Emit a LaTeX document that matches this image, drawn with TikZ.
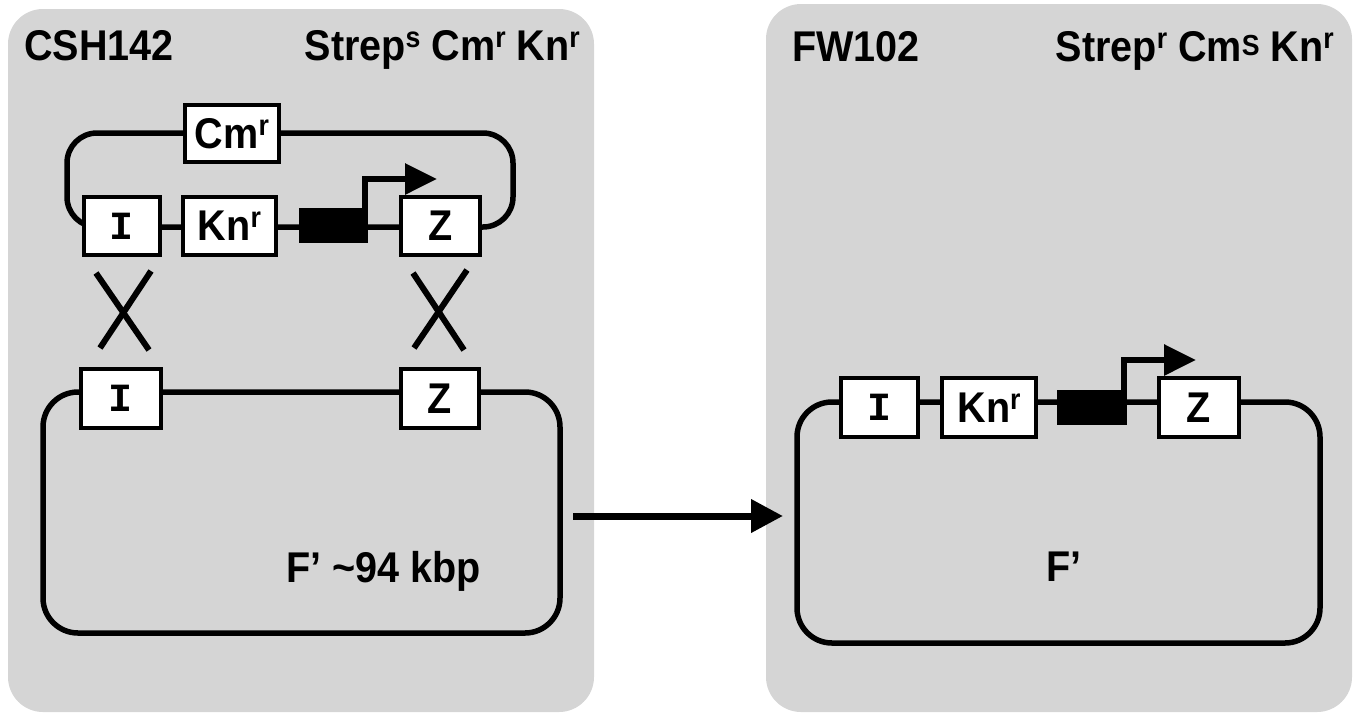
\documentclass[tikz,border=0pt]{standalone}
\usepackage{fontspec}
\setmainfont{Liberation Sans}[FakeStretch=0.92]
\newfontfamily\monofam{Liberation Mono}
\usetikzlibrary{arrows.meta}
\definecolor{panelgray}{RGB}{213,213,213}
\newcommand{\supr}[1]{\raisebox{0.3em}{\fontsize{29}{29}\selectfont #1}}
\newcommand{\suprS}[1]{\raisebox{0.12em}{\fontsize{29}{29}\selectfont #1}}
\newcommand{\bigfont}{\fontsize{43}{50}\selectfont\bfseries}
\begin{document}
\begin{tikzpicture}[x=1pt,y=-1pt,
  panel/.style={fill=panelgray, rounded corners=35pt},
  plasmid/.style={draw, line width=5.5pt, rounded corners=#1, inner sep=0pt},
  gene/.style={draw, fill=white, line width=4pt, inner sep=0pt, minimum height=58pt, font=\bigfont},
  blk/.style={fill=black, inner sep=0pt, minimum width=70pt, minimum height=35pt},
  xline/.style={line width=6pt},
  prom/.style={line width=6pt, -{Triangle[length=32pt,width=30pt]}},
  transfer/.style={line width=7pt, -{Triangle[length=32pt,width=32pt]}},
  title/.style={font=\bigfont, inner sep=0pt},
]
\useasboundingbox (0,0) rectangle (1357,713);
% panels
\fill[panel] (8,9) rectangle (594,712);
\fill[panel] (766,4) rectangle (1352,712);
% titles
\node[title, anchor=base west] (t1) at (24,60) {CSH142};
\node[title, anchor=base east] (t2) at (580,60) {Strep\supr{s} Cm\supr{r} Kn\supr{r}};
\node[title, anchor=base west] (t3) at (792,61) {FW102};
\node[title, anchor=base east] (t4) at (1334,61) {Strep\supr{r} Cm\suprS{S} Kn\supr{r}};
% ---------- left panel: donor plasmid ----------
\node[plasmid=30pt, minimum width=446pt, minimum height=94pt] (loop) at (290,180) {};
\node[gene, minimum width=94pt, minimum height=57pt] (cm) at (232,133.5) {Cm\supr{r}};
\node[gene, minimum width=76pt] (i1) at (122,226) {\fontsize{40}{48}\selectfont\monofam I};
\node[gene, minimum width=93pt] (kn1) at (229.5,226) {Kn\supr{r}};
\node[blk, minimum width=69pt] (p1) at (333.5,225.5) {};
\node[gene, minimum width=79pt] (z1) at (440.5,226) {Z};
\coordinate (tip1) at (437,179);
\draw[prom] ([xshift=-3pt]p1.north east) |- (tip1);
% crossovers
\draw[xline] (96,273) -- (149,350);
\draw[xline] (151,271) -- (100,348);
\draw[xline] (413,273) -- (464,350);
\draw[xline] (467,270) -- (414,348);
% F' of CSH142
\node[plasmid=35pt, minimum width=517pt, minimum height=241pt] (lp) at (301.5,512.5) {};
\node[gene, minimum width=80pt, minimum height=59pt] (i2) at (121,398.5) {\fontsize{40}{48}\selectfont\monofam I};
\node[gene, minimum width=78pt, minimum height=59pt] (z2) at (440,398.5) {Z};
\node[title, anchor=base west] (f1) at (286,582) {F’ \textasciitilde94 kbp};
% transfer arrow
\coordinate (a1) at (573,516);
\coordinate (a2) at (783,516);
\draw[transfer] (a1) -- (a2);
% ---------- right panel ----------
\node[plasmid=35pt, minimum width=523pt, minimum height=241pt] (rp) at (1058.5,522.5) {};
\node[gene, minimum width=77pt, minimum height=59pt] (i3) at (879.5,407.5) {\fontsize{40}{48}\selectfont\monofam I};
\node[gene, minimum width=94pt, minimum height=59pt] (kn3) at (989,407.5) {Kn\supr{r}};
\node[blk] (p3) at (1092,407.5) {};
\node[gene, minimum width=80pt, minimum height=59pt] (z3) at (1199,407.5) {Z};
\coordinate (tip3) at (1196,360);
\draw[prom] ([xshift=-3pt]p3.north east) |- (tip3);
\node[title, anchor=base west] (f3) at (1046,581) {F’};
\end{tikzpicture}
\end{document}
